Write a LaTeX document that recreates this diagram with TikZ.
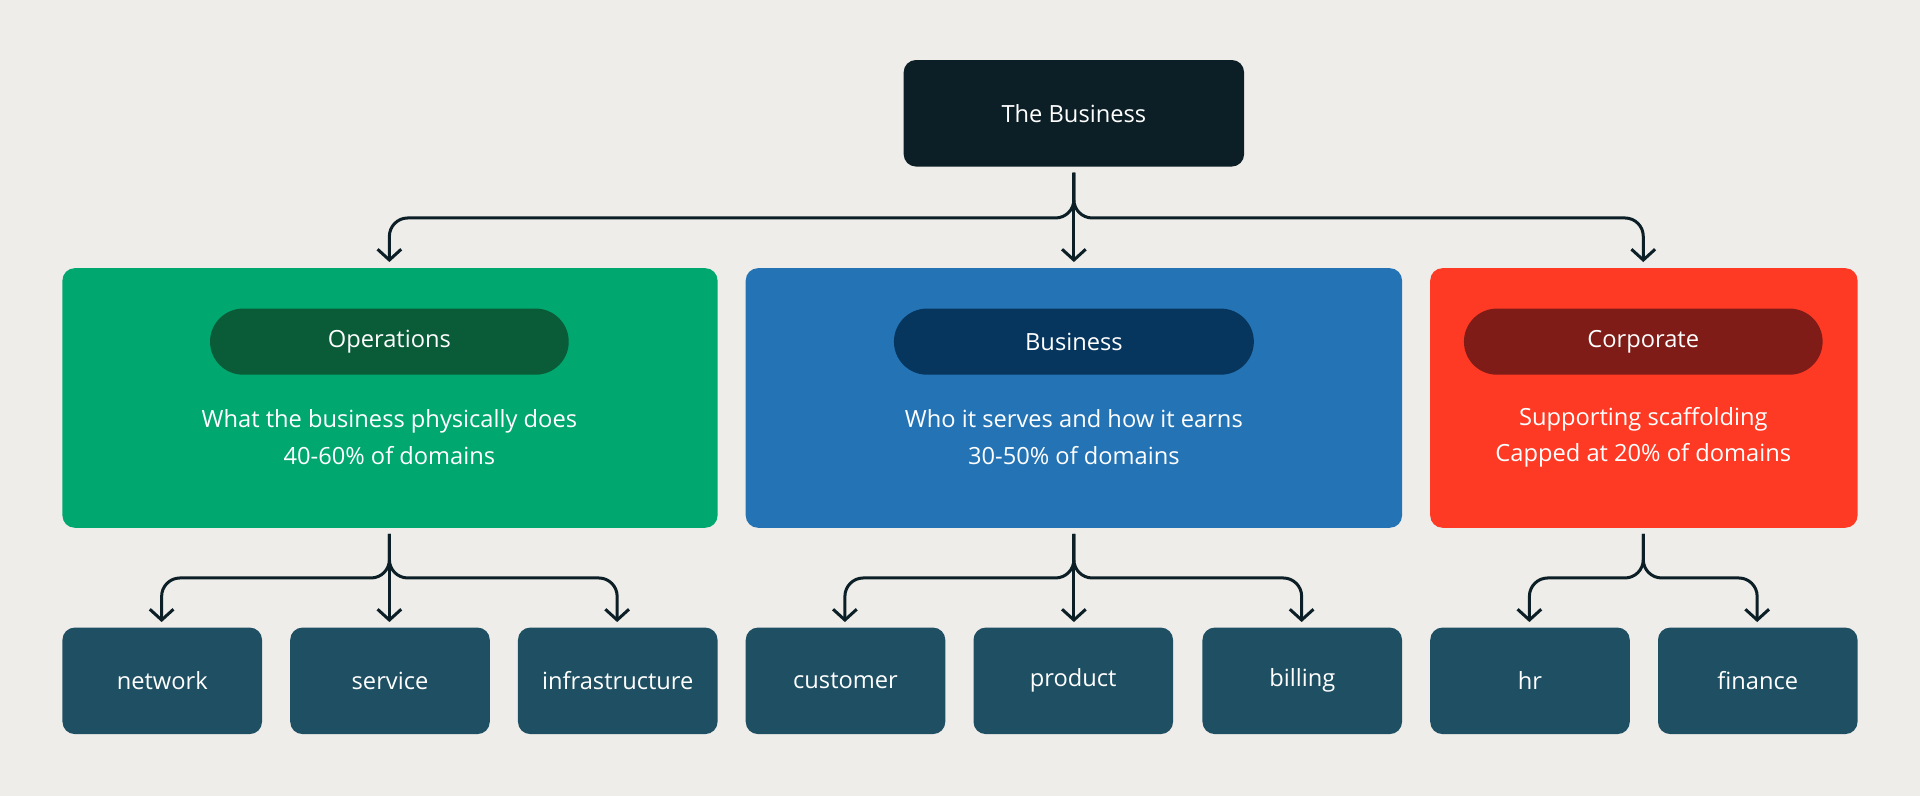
\documentclass[tikz,border=0pt]{standalone}
\usepackage{fontspec}
\setmainfont{Open Sans}
\usetikzlibrary{arrows.meta}
\definecolor{bg}{HTML}{EFEDE9}
\definecolor{topc}{HTML}{0C1F26}
\definecolor{gr}{HTML}{00A870}
\definecolor{grd}{HTML}{0A5C38}
\definecolor{bl}{HTML}{2474B5}
\definecolor{bld}{HTML}{06365E}
\definecolor{rd}{HTML}{FF3A24}
\definecolor{rdd}{HTML}{801C18}
\definecolor{leaf}{HTML}{1E4F62}
\begin{document}
\begin{tikzpicture}[x=0.02cm,y=-0.02cm,
  box/.style={rounded corners=0.2cm,inner sep=0,text=white,font=\fontsize{11}{13}\selectfont},
  pill/.style={rounded corners=0.54cm,inner sep=0,text=white,font=\fontsize{11}{13}\selectfont},
  conn/.style={draw=topc,line width=1.4pt,rounded corners=0.3cm,-{Straight Barb[length=5pt,width=11pt]}}]
\fill[bg] (0,0) rectangle (1568,650);
\useasboundingbox (0,0) rectangle (1568,650);
\newcommand\bx[6]{\node[box,fill=#6,minimum width={(#3-#2)*0.02cm},minimum height={(#5-#4)*0.02cm}] (#1) at ({(#2+#3)/2},{(#4+#5)/2}) {};}
\bx{top}{738}{1016}{49}{136}{topc}
\node[text=white,font=\fontsize{11}{13}\selectfont] (toptxt) at (877,93) {The Business};
\bx{ops}{51}{586}{219}{431}{gr}
\bx{bus}{609}{1145}{219}{431}{bl}
\bx{cor}{1168}{1517}{219}{431}{rd}
\node[pill,fill=grd,minimum width=5.86cm,minimum height=1.08cm] (p1) at (318,279) {Operations};
\node[pill,fill=bld,minimum width=5.88cm,minimum height=1.08cm] (p2) at (877,279) {Business};
\node[pill,fill=rdd,minimum width=5.86cm,minimum height=1.08cm] (p3) at (1342,279) {Corporate};
\node[text=white,font=\fontsize{11}{13}\selectfont,align=center] (t1) at (318,357) {What the business physically does\\[4pt]40-60\% of domains};
\node[text=white,font=\fontsize{11}{13}\selectfont,align=center] (t2) at (877,357) {Who it serves and how it earns\\[4pt]30-50\% of domains};
\node[text=white,font=\fontsize{11}{13}\selectfont,align=center] (t3) at (1342,357) {Supporting scaffolding\\[4pt]Capped at 20\% of domains};
\newcommand\lf[4]{\node[box,fill=leaf,minimum width=3.26cm,minimum height=1.74cm] (#1) at ({(#2+#3)/2},556) {#4};}
\lf{network}{51}{214}{network}
\lf{service}{237}{400}{service}
\lf{infra}{423}{586}{infrastructure}
\lf{customer}{609}{772}{customer}
\lf{product}{795}{958}{product}
\lf{billing}{982}{1145}{billing}
\lf{hr}{1168}{1331}{hr}
\lf{finance}{1354}{1517}{finance}
% top connectors
\coordinate (s0) at (877,141);
\draw[conn] (s0) |- (318,178) -- (318,214);
\draw[conn] (s0) |- (1342,178) -- (1342,214);
\draw[conn] (s0) -- (877,214);
\coordinate (s1) at (318,436);
\draw[conn] (s1) |- (132,472) -- (132,508);
\draw[conn] (s1) |- (504,472) -- (504,508);
\draw[conn] (s1) -- (318,508);
\coordinate (s2) at (877,436);
\draw[conn] (s2) |- (690,472) -- (690,508);
\draw[conn] (s2) |- (1063,472) -- (1063,508);
\draw[conn] (s2) -- (877,508);
\coordinate (s3) at (1342,436);
\draw[conn] (s3) |- (1249,472) -- (1249,508);
\draw[conn] (s3) |- (1435,472) -- (1435,508);
\end{tikzpicture}
\end{document}
